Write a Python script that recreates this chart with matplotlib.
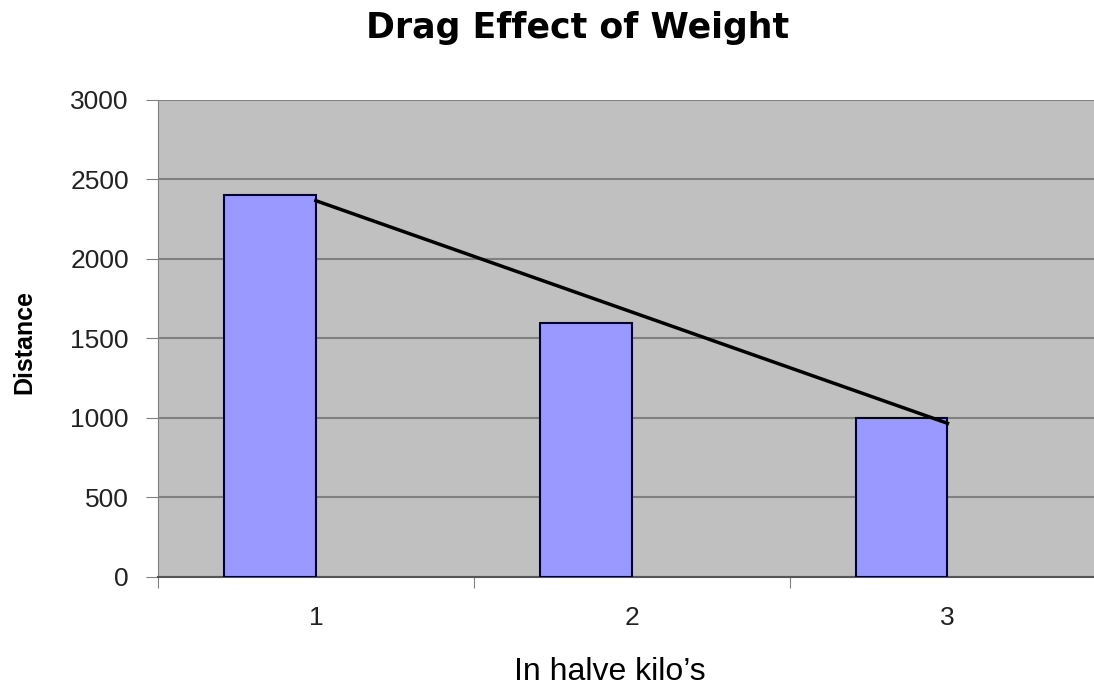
import numpy as np
import matplotlib
matplotlib.use("Agg")
import matplotlib.pyplot as plt

# data
categories = [1, 2, 3]
distance = [2400, 1600, 1000]
y_ticks = [0, 500, 1000, 1500, 2000, 2500, 3000]

plt.rcParams['font.family'] = ['Liberation Sans', 'DejaVu Sans']

fig = plt.figure(figsize=(10.94, 6.9), dpi=100)
# plot area runs off the right edge like in the original
ax = fig.add_axes([0.1444, 0.1638, 0.866, 0.6913])
ax.set_facecolor('#c0c0c0')

x = np.array(categories, dtype=float)
bar_w = 0.29
ax.bar(x - bar_w / 2, distance, width=bar_w, color='#9999ff',
       edgecolor='#000033', linewidth=1.5, zorder=3)

# linear trendline
k, b = np.polyfit(x, distance, 1)
ax.plot(x, k * x + b, color='black', linewidth=2.5, zorder=4)

ax.set_xlim(0.5, 3.5)
ax.set_ylim(0, 3000)
ax.set_yticks(y_ticks)
ax.set_yticklabels([str(v) for v in y_ticks], fontsize=19, color='#222222')
ax.set_xticks([0.5, 1.5, 2.5, 3.5])
ax.set_xticklabels([])
ax.set_xticks(categories, minor=True)
ax.set_xticklabels([str(c) for c in categories], minor=True, fontsize=19, color='#222222')
ax.tick_params(axis='x', which='major', length=8, color='#808080')
ax.tick_params(axis='x', which='minor', length=0, pad=21)
ax.tick_params(axis='y', length=9, color='#808080', pad=12)

ax.grid(axis='y', color='#808080', linewidth=1.5, zorder=1)
ax.set_axisbelow(True)
for s in ['top', 'right']:
    ax.spines[s].set_visible(False)
ax.spines['left'].set_color('#808080')
ax.spines['bottom'].set_color('#555555')
ax.spines['bottom'].set_linewidth(1.5)

fig.text(0.528, 0.945, 'Drag Effect of Weight', ha='center', va='baseline',
         fontsize=25, fontweight='bold', family='DejaVu Sans')
fig.text(0.022, 0.504, 'Distance', ha='center', va='center', rotation=90,
         fontsize=18, fontweight='bold')
fig.text(0.557, 0.026, 'In halve kilo\u2019s', ha='center', va='center',
         fontsize=23)

fig.savefig('out.png', dpi=100)
